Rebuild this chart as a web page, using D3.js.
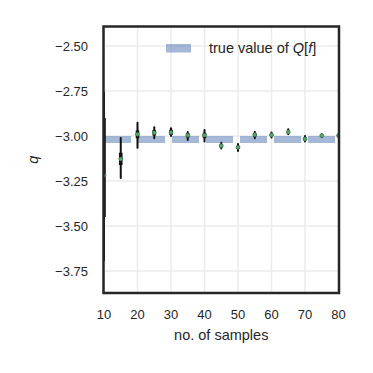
<!DOCTYPE html>
<html>
<head>
<meta charset="utf-8">
<script src="https://cdn.jsdelivr.net/npm/d3@7"></script>
<style>
  body { margin: 0; background: #fff; }
  svg text { font-family: "Liberation Sans", Arial, sans-serif; fill: #262626; }
</style>
</head>
<body>
<div id="chart"></div>
<script>
// sample sizes and the estimates
const samples   = [10, 15, 20, 25, 30, 35, 40, 45, 50, 55, 60, 65, 70, 75, 80];
const means     = [-3.22, -3.128, -2.99, -2.982, -2.98, -2.996, -2.996, -3.054, -3.063, -2.993, -2.994, -2.978, -3.017, -2.998, -2.998];
const outerLow  = [-3.69, -3.233, -3.065, -3.013, -3.0, -3.022, -3.031, -3.07, -3.083, -3.013, -3.009, -2.99, -3.031, -3.005, -3.004];
const outerHigh = [-2.76, -3.011, -2.926, -2.952, -2.957, -2.978, -2.967, -3.037, -3.044, -2.976, -2.98, -2.963, -3.0, -2.99, -2.992];
const innerLow  = [-3.45, -3.161, -3.013, -2.998, -2.995, -3.008, -3.012, -3.062, -3.072, -3.003, -3.0, -2.984, -3.024, -3.0, -3.0];
const innerHigh = [-2.9, -3.093, -2.97, -2.967, -2.965, -2.985, -2.982, -3.046, -3.054, -2.984, -2.988, -2.972, -3.008, -2.996, -2.996];
const trueValue = -3.02;
const xTicks = [10, 20, 30, 40, 50, 60, 70, 80];
const yTicks = [-2.5, -2.75, -3.0, -3.25, -3.5, -3.75];

var W = 373, H = 373;
var pLeft = 103.5, pRight = 339, pTop = 26.5, pBottom = 293;

var svg = d3.select("#chart").append("svg")
    .attr("width", W)
    .attr("height", H);

var x = d3.scaleLinear().domain([10, 80]).range([104, 338.5]);
var y = d3.scaleLinear().domain([-3.872, -2.392]).range([pBottom, pTop]);

svg.append("defs").append("clipPath").attr("id", "clip")
    .append("rect")
    .attr("x", pLeft).attr("y", pTop)
    .attr("width", pRight - pLeft).attr("height", pBottom - pTop);

// grid
svg.append("g")
    .selectAll("line")
    .data(xTicks)
    .enter().append("line")
    .attr("x1", d => x(d)).attr("x2", d => x(d))
    .attr("y1", pTop).attr("y2", pBottom)
    .attr("stroke", "#ebebeb").attr("stroke-width", 1.5);
svg.append("g")
    .selectAll("line")
    .data(yTicks)
    .enter().append("line")
    .attr("x1", pLeft).attr("x2", pRight)
    .attr("y1", d => y(d)).attr("y2", d => y(d))
    .attr("stroke", "#ebebeb").attr("stroke-width", 1.5);

var plot = svg.append("g").attr("clip-path", "url(#clip)");

// true value band
plot.append("line")
    .attr("x1", x(10)).attr("x2", x(80) + 10)
    .attr("y1", y(trueValue)).attr("y2", y(trueValue))
    .attr("stroke", "#4c72b0").attr("stroke-opacity", 0.5)
    .attr("stroke-width", 7)
    .attr("stroke-dasharray", "27,7");

var rows = samples.map((n, i) => ({
    n: n, m: means[i],
    lo: outerLow[i], hi: outerHigh[i],
    ilo: innerLow[i], ihi: innerHigh[i]
}));

// whiskers
plot.append("g").selectAll("line")
    .data(rows).enter().append("line")
    .attr("x1", d => x(d.n)).attr("x2", d => x(d.n))
    .attr("y1", d => y(d.lo)).attr("y2", d => y(d.hi))
    .attr("stroke", "#111").attr("stroke-width", 2)
    .attr("stroke-linecap", "round");

// inner range
plot.append("g").selectAll("line")
    .data(rows).enter().append("line")
    .attr("x1", d => x(d.n)).attr("x2", d => x(d.n))
    .attr("y1", d => y(d.ilo)).attr("y2", d => y(d.ihi))
    .attr("stroke", "#111").attr("stroke-width", 3.6);

// means
plot.append("g").selectAll("circle")
    .data(rows).enter().append("circle")
    .attr("cx", d => x(d.n)).attr("cy", d => y(d.m))
    .attr("r", 2)
    .attr("fill", "#55a868").attr("stroke", "#2f5f3c").attr("stroke-width", 0.5);

// spines
svg.append("rect")
    .attr("x", pLeft).attr("y", pTop)
    .attr("width", pRight - pLeft).attr("height", pBottom - pTop)
    .attr("fill", "none").attr("stroke", "#262626").attr("stroke-width", 2.5);

// tick labels
svg.append("g").selectAll("text")
    .data(xTicks).enter().append("text")
    .attr("x", d => x(d)).attr("y", 319)
    .attr("text-anchor", "middle")
    .style("font-size", "13px")
    .text(d => d);

svg.append("g").selectAll("text")
    .data(yTicks).enter().append("text")
    .attr("x", 88).attr("y", d => y(d) + 4.6)
    .attr("text-anchor", "end")
    .style("font-size", "13px")
    .text(d => d3.format(".2f")(d).replace("-", "\u2212"));

// axis labels
svg.append("text")
    .attr("x", (pLeft + pRight) / 2).attr("y", 340)
    .attr("text-anchor", "middle")
    .style("font-size", "14.5px")
    .text("no. of samples");

svg.append("text")
    .attr("transform", "translate(38," + ((pTop + pBottom) / 2) + ") rotate(-90)")
    .attr("text-anchor", "middle")
    .style("font-size", "14.5px")
    .style("font-style", "italic")
    .text("q");

// legend
svg.append("rect")
    .attr("x", 166).attr("y", 44)
    .attr("width", 25).attr("height", 8.5)
    .attr("fill", "#4c72b0").attr("fill-opacity", 0.5);

var lg = svg.append("text")
    .attr("x", 209).attr("y", 53)
    .style("font-size", "14.5px");
lg.append("tspan").text("true value of ");
lg.append("tspan").style("font-style", "italic").text("Q");
lg.append("tspan").text("[");
lg.append("tspan").style("font-style", "italic").text("f");
lg.append("tspan").text("]");
</script>
</body>
</html>
